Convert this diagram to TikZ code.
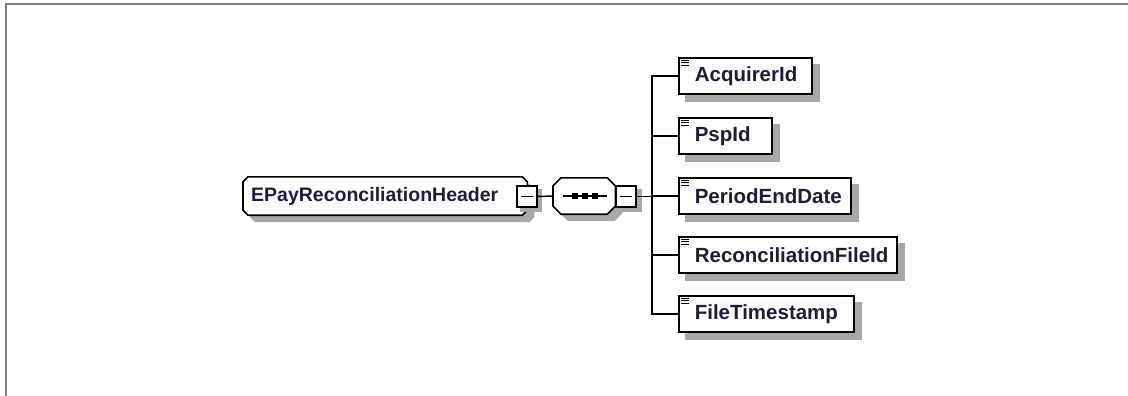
\documentclass[tikz,border=0pt]{standalone}
\usepackage{fontspec}
\setmainfont{Liberation Sans}
\definecolor{txt}{HTML}{1E1E3C}
\definecolor{shd}{HTML}{A8A8A8}
\definecolor{frm}{HTML}{808080}
\pgfdeclarelayer{bg}
\pgfsetlayers{bg,main}
\newcommand{\chamfpath}[4]{([xshift={#3+#2},yshift={#4}]#1.north west) -- ([xshift={#3-#2},yshift={#4}]#1.north east) -- ([xshift={#3},yshift={#4-#2}]#1.north east) -- ([xshift={#3},yshift={#4+#2}]#1.south east) -- ([xshift={#3-#2},yshift={#4}]#1.south east) -- ([xshift={#3+#2},yshift={#4}]#1.south west) -- ([xshift={#3},yshift={#4+#2}]#1.south west) -- ([xshift={#3},yshift={#4-#2}]#1.north west) -- cycle}
\tikzset{
  x=1pt, y=-1pt,
  lbl/.style={font=\fontsize{20.5}{24}\selectfont\bfseries, text=txt, align=left},
  rootbox/.style={lbl, font=\fontsize{19.5}{24}\selectfont\bfseries, anchor=west, minimum height=38pt, inner ysep=0pt, inner xsep=8pt},
  seqbox/.style={anchor=west, minimum height=36pt, minimum width=62pt, inner sep=0pt},
  childbox/.style={lbl, anchor=west, draw=black, line width=1.6pt, fill=white, minimum height=36pt, inner ysep=0pt, inner xsep=16pt},
  minusbox/.style={draw=black, line width=2pt, fill=white, minimum width=20pt, minimum height=21pt, inner sep=0pt},
  conn/.style={draw=black, line width=1.5pt},
  outline/.style={draw=black, line width=1.6pt, fill=white},
}
\begin{document}
\begin{tikzpicture}
\useasboundingbox (0,0) rectangle (1128,396);
\draw[frm, line width=2pt] (1128,4) -- (6,4) -- (6,396);

% root element
\node[rootbox, text width=268pt] (root) at (243,196) {EPayReconciliationHeader};
\begin{pgfonlayer}{bg}
  \fill[shd] \chamfpath{root}{5pt}{7pt}{-7pt};
  \path[outline] \chamfpath{root}{5pt}{0pt}{0pt};
\end{pgfonlayer}
\fill[shd] (520,189) rectangle (542,212);
\node[minusbox] (rm) at (527,196.5) {};
\draw[line width=1.4pt] ([xshift=-6pt]rm.center) -- ([xshift=6pt]rm.center);

% sequence
\node[seqbox] (seq) at (553,196) {};
\begin{pgfonlayer}{bg}
  \fill[shd] \chamfpath{seq}{8pt}{7pt}{-7pt};
  \path[outline] \chamfpath{seq}{8pt}{0pt}{0pt};
\end{pgfonlayer}
\draw[line width=1.5pt] ([xshift=10pt]seq.west) -- ([xshift=54pt]seq.west);
\foreach \dx in {22,32,42}
  \fill ([xshift=\dx pt-2.7pt,yshift=-2.7pt]seq.west) rectangle ([xshift=\dx pt+2.7pt,yshift=2.7pt]seq.west);
\fill[shd] (620,189) rectangle (642,212);
\node[minusbox] (sm) at (626,196.5) {};
\draw[line width=1.4pt] ([xshift=-6pt]sm.center) -- ([xshift=6pt]sm.center);

\draw[conn] (rm.east) -- (seq.west);
\coordinate (bus) at (652,196.5);
\draw[conn] (sm.east) -- (bus);

% children
\foreach \nm/\txt/\tw/\yy in {c1/AcquirerId/101/76, c2/PspId/61/136, c3/PeriodEndDate/140/196, c4/ReconciliationFileId/186/255, c5/FileTimestamp/143/314}{
  \node[childbox, text width=\tw pt] (\nm) at (678,\yy) {\txt};
  \begin{pgfonlayer}{bg}
    \fill[shd] ([xshift=7pt,yshift=-7pt]\nm.north west) rectangle ([xshift=7pt,yshift=-7pt]\nm.south east);
  \end{pgfonlayer}
  \foreach \k in {3,5.5,8}
    \draw[line width=1pt] ([xshift=3pt,yshift=-\k pt]\nm.north west) -- ([xshift=10.5pt,yshift=-\k pt]\nm.north west);
  \draw[conn] (bus) |- (\nm.west);
}
\end{tikzpicture}
\end{document}
